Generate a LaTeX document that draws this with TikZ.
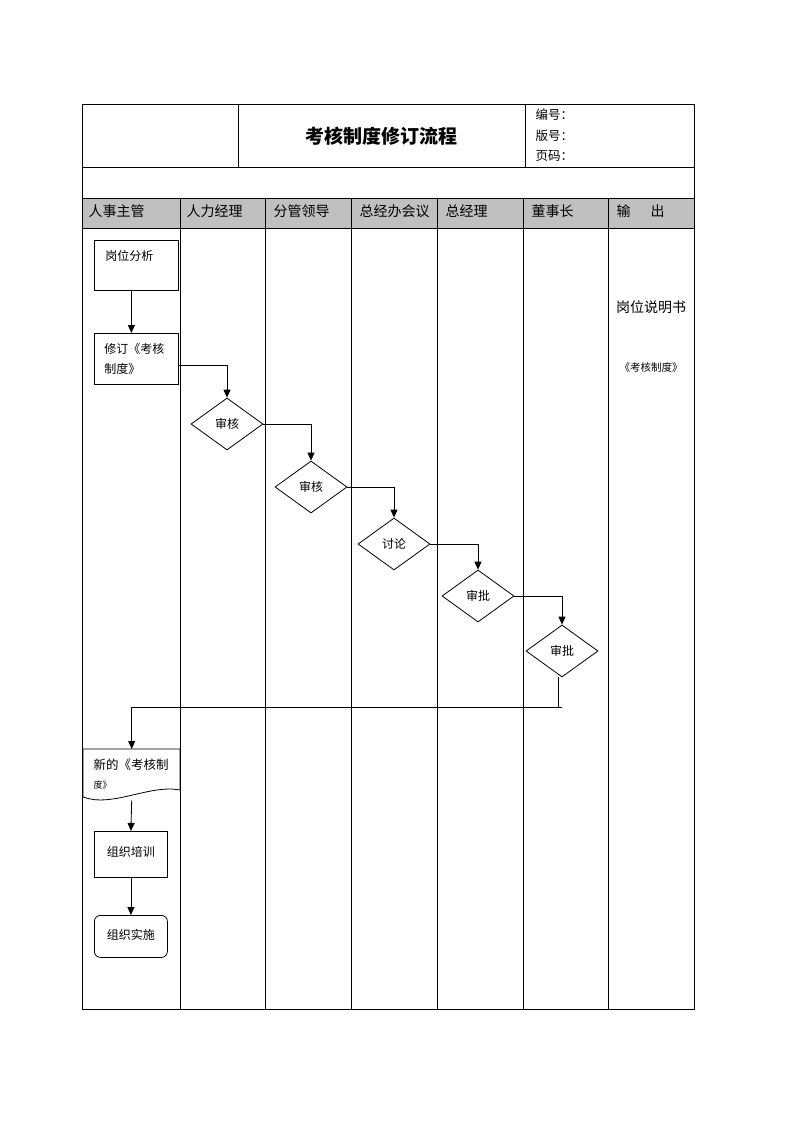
\documentclass[tikz,border=0pt]{standalone}
\usepackage{fontspec}
\setmainfont{Noto Sans CJK SC}
\usetikzlibrary{shapes.geometric,arrows.meta}
\definecolor{hdrgray}{RGB}{192,192,192}
\begin{document}
\begin{tikzpicture}[x=1pt,y=-1pt,
  line/.style={line width=0.8pt},
  flow/.style={line width=0.8pt,-{Triangle[length=8pt,width=7pt]}},
  box/.style={draw,line width=0.8pt,inner sep=0pt,font=\fontsize{12}{20}\selectfont},
  dec/.style={draw,diamond,line width=0.8pt,minimum width=72pt,minimum height=52pt,inner sep=0pt,font=\fontsize{12}{13}\selectfont},
  lane/.style={anchor=west,font=\fontsize{14}{15}\selectfont},
  meta/.style={anchor=west,font=\fontsize{12.5}{14}\selectfont}
]
\useasboundingbox (0,0) rectangle (793,1122);
% table frame
\fill[hdrgray] (82,198) rectangle (694,228);
\draw[line] (82,104) rectangle (694,1009);
\draw[line] (238,104) -- (238,167);
\draw[line] (525,104) -- (525,167);
\draw[line] (82,167) -- (694,167);
\draw[line] (82,198) -- (694,198);
\draw[line] (82,228) -- (694,228);
\foreach \x in {180,265,351,437,523,608} \draw[line] (\x,198) -- (\x,1009);
% header
\node[font=\fontsize{19}{21}\selectfont\bfseries] (title) at (381,136) {考核制度修订流程};
\node[meta] (bh) at (532,115) {编号：};
\node[meta] (vh) at (532,136) {版号：};
\node[meta] (ym) at (532,156) {页码：};
% lane headers
\node[lane] (l1) at (85,211) {人事主管};
\node[lane] (l2) at (183,211) {人力经理};
\node[lane] (l3) at (270,211) {分管领导};
\node[lane] (l4) at (356,211) {总经办会议};
\node[lane] (l5) at (442,211) {总经理};
\node[lane] (l6) at (528,211) {董事长};
\node[lane] (l7) at (613,211) {输\hspace{20pt}出};
% output column
\node[font=\fontsize{14}{16}\selectfont] (out1) at (651,307) {岗位说明书};
\node[font=\fontsize{10.5}{12}\selectfont] (out2) at (651,368) {《考核制度》};
% flow
\node[box,anchor=north west,minimum width=84pt,minimum height=50pt,text width=62pt,inner xsep=11pt,align=left] (a) at (94,240) {岗位分析\\\mbox{}};
\node[box,anchor=north west,minimum width=84pt,minimum height=51pt,text width=64pt,inner xsep=10pt,align=left] (b) at (94,333) {修订《考核\\制度》};
\node[dec] (d1) at (227,424) {审核};
\node[dec] (d2) at (311,487) {审核};
\node[dec] (d3) at (394,544) {讨论};
\node[dec] (d4) at (478,596) {审批};
\node[dec] (d5) at (562,651) {审批};
\coordinate (turn) at (558,707);
% document shape
\node[anchor=north west,minimum width=97pt,minimum height=51pt,inner sep=0pt] (doc) at (83,749) {};
\draw[line] (83,749) -- (180,749) -- (180,790) .. controls (150,784) and (112,808) .. (83,797) -- cycle;
\node[anchor=west,font=\fontsize{12.5}{14}\selectfont] (doct1) at (90,765) {新的《考核制};
\node[anchor=west,font=\fontsize{9}{10}\selectfont] (doct2) at (90,785) {度》};
\node[box,anchor=north west,minimum width=73pt,minimum height=46pt] (e) at (94,831) {\raisebox{6pt}{组织培训}};
\node[box,anchor=north west,minimum width=73pt,minimum height=42pt,rounded corners=6pt] (f) at (94,915) {\raisebox{4pt}{组织实施}};
% connectors
\draw[flow] ([xshift=-5pt]a.south) -- ([xshift=-5pt]b.north);
\draw[flow] ([yshift=-6.5pt]b.east) -| (d1.north);
\draw[flow] (d1.east) -| (d2.north);
\draw[flow] (d2.east) -| (d3.north);
\draw[flow] (d3.east) -| (d4.north);
\draw[flow] (d4.east) -| (d5.north);
\draw[line] ([xshift=-4pt]d5.south) -- (turn) -- ++(4,0);
\draw[flow] (turn) -| (doc.north);
\draw[flow] (doc.south) -- (e.north);
\draw[flow] (e.south) -- (f.north);
\end{tikzpicture}
\end{document}
